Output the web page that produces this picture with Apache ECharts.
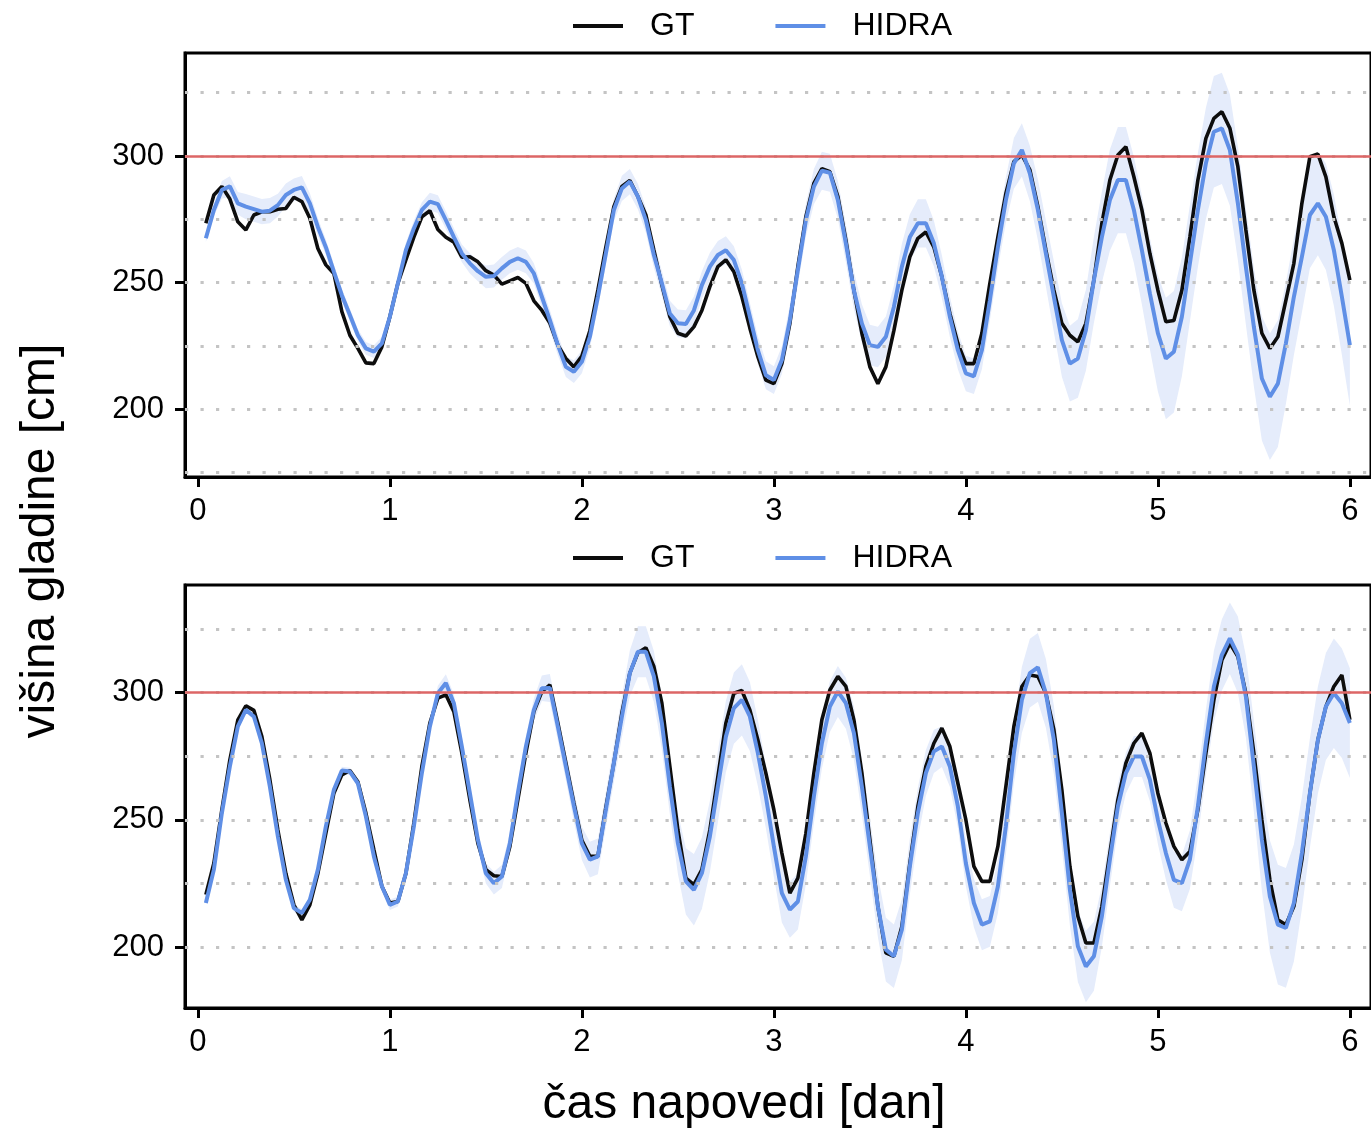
<!DOCTYPE html>
<html>
<head>
<meta charset="utf-8">
<script src="https://cdn.jsdelivr.net/npm/echarts@6/dist/echarts.min.js"></script>
<style>
html,body{margin:0;padding:0;background:#fff;}
#chart{width:1371px;height:1128px;}
</style>
</head>
<body>
<div id="chart"></div>
<script>
// Forecast lead time: hourly steps, 1..144 h (x in days)
const STEP_HOURS = 1;

// ---------- top panel ----------
const topGT = [273.4,284.6,288,283,274,270.8,276.7,278,278,279,279.3,283.7,282,275.4,263.5,257,253.6,238.5,229.2,224,218.3,218,224.6,236.5,
249.7,259,268,276,278.4,271,267.9,266,260,260.2,258.2,254.7,253,249.4,250.7,252,249.7,242.8,239,234,225.3,220,216.7,221,
231,247,264,280,288,290.3,284,276.7,262.8,249,236.5,230,228.9,232.5,239,248.4,256.3,259,254.3,244.4,232,220.7,211.5,210.1,
218,233.9,256.3,276,289.2,295,293.8,284,266.8,247,230,216.7,210,216.7,231,247,260.2,267.5,270,264,252.3,237.8,226,218,
218,230,249.7,268,285.2,297.8,300.4,294.5,280,262.8,247,233.9,229.2,226.6,233.9,251,273.4,290.5,300.4,303.7,291.8,278.7,261.5,247,
234.5,235,247,268,290.5,307,314.9,317.5,311,295.8,270.8,247,230,224,228.6,243,257.6,281.3,299.7,300.8,291.8,276,265.5,251];

const topHIDRA = [267.5,278.7,286.6,288,281.3,280,279,278,278.4,280.6,284.6,286.6,287.6,281.3,272,264,254.3,245,237.2,229.2,224,222.7,226,236.5,
249.7,262.8,271.4,278.7,282,281,274.7,268,261.5,257.6,254.5,252.3,252.6,255.6,258.2,259.6,258.2,253.6,244.4,235.2,225.3,216.7,214.8,218.7,
228.6,244.4,261.5,278.7,287.2,289.9,284,274.7,260.9,249.7,237.8,233.9,233.6,239,249,256.3,260.9,262.8,258.9,249.7,236.5,223.3,213.4,211.5,
219.4,235.2,255,274.7,287.9,294.2,293.4,282.6,265.5,247,233.9,225.3,224.6,228.6,240.4,256.3,268,273.4,273.4,265.5,252.3,236.5,223.3,214.1,
213,223.3,243,264,282.6,297.1,302.4,293.1,278.7,261.5,244.4,227.3,218,220,231.2,251,268,282.6,290.5,290.5,278.7,262.8,245.7,230,
220,222.7,236.5,257.6,278.7,297.1,309.6,310.9,302.4,281.3,256.3,232.5,212.1,204.9,210.1,226,244.4,260.2,276.7,281.3,276,262.8,244.4,225.3];

const topBandHalf = [1.5,2.5,3.5,4,4.5,5,5,5,5,4.5,4.5,4.5,4.5,4,3.5,3,3,2.5,2.5,2.5,2.5,2.5,2.5,2.5,
2.5,3,3,3,3.5,3.5,3.5,3.5,3.5,4,4,4.5,4.5,4.5,4.5,4.5,4.5,4,4,4,4,4,4.5,4.5,
4.5,4.5,4.5,4.5,5,5,5,5,5,5,5,5.5,5.5,5.5,5.5,5.5,5.5,5.5,5.5,5.5,5.5,5.5,5.5,5.5,
5.5,6,6,6.5,7,7.5,7.5,7.5,7.5,7.5,7.5,8,8,8,8.5,9,9,9.5,9.5,9,8.5,8,7.5,7,
7,7.5,8,8.5,9,10,10.5,11,12,13,14,14.5,15,15.5,16,17,18,20,21,21,21,21.5,22,23,
24,24,23.5,23,22.5,22,22,22,22,22.5,23,23.5,24.5,25,25,24,23,22,21,20.5,21,22,23,24];

// ---------- bottom panel ----------
const botGT = [220.7,233,254,273.6,289.3,294.8,293,282.7,265.8,246,229,216.7,210.8,216.7,229,244.8,260.5,267.7,269.4,265,252.7,238.3,224,217.4,
218,229,248.8,271,288,297.8,299.1,292.5,276.2,257.9,240.9,230.5,228.1,227.8,239.6,257.9,276.2,292.5,300.4,303,288,272.4,256.7,242,
235.7,235.7,255,272.4,292,307.7,315.6,317.6,310.2,295.8,271,246.1,227.2,224.6,230.5,246.1,267,288,299.7,300.8,293.2,281.4,268.4,254,
237,221.3,227.2,244.8,268.4,289.3,301,306.3,302.4,289.3,268.4,242.2,216.1,197.8,196.5,208.2,233.1,255.3,271,280.1,286,278.8,264.4,250,
231.8,225.9,225.9,239.6,263.1,286.7,302.4,306.9,306.3,299.7,285.4,261.8,231.8,212.2,201.7,201.7,216.1,237,257.9,272.3,280.1,284.1,276.2,260.5,
248.8,239.6,234.4,237.6,254,276.2,297.1,312.8,319.3,314.1,299.7,276.2,250,226.5,210.8,208.9,216.1,234.4,260.5,281.4,294.5,302.4,306.9,289.3];

const botHIDRA = [217.4,230.5,252.7,271,286.7,293.2,290.6,280.1,263.1,243.5,226.5,215.4,213.5,218.7,230.5,247.5,261.8,269.4,269,264.4,251.4,235.7,224,216.7,
218,229.1,247.5,268.4,286.7,299.7,303.7,295.8,278.8,260.5,242.2,229.1,225.2,227.8,240.9,260.5,278.8,293.2,301.7,301.8,286.6,271,255.5,240.8,
234.4,235.7,254,272.4,290.5,307.6,316,316,306.3,288,263.1,240.9,225.9,222.6,229.1,243.5,263.1,282.7,293.9,297.1,290.6,276.2,259.2,239.6,
221.3,214.8,218,235.7,259.2,280.1,294.5,300.4,295.8,284.1,263.1,239.6,216.1,199.1,196.5,206.9,231.8,252.7,268.4,276.9,278.8,271,255.3,233,
217.4,208.9,210.2,223.9,247.5,276.2,297.1,307.6,309.9,299.7,281.4,252.7,222.6,200.4,192.5,196.5,212.2,234.4,255.3,268.4,274.9,274.9,265.8,250.1,
237,226.5,225.2,234.4,255.3,280.1,302.4,314.8,321.3,314.8,298.4,271,242.2,220,208.9,207.6,217.4,237,260.5,281.4,294.5,299.7,295.8,288];

const botBandHalf = [0.5,0.8,1,1,1,1.2,1.2,1.2,1.2,1.2,1.5,1.5,1.5,1.5,1.5,1.5,1.5,1.5,1.5,1.5,1.5,1.5,1.5,2,
2,2,2,2,2.5,3,3.5,3.5,3.5,3.5,3.5,4,4.5,4.5,4,4,4,4.5,5,5.5,5.5,5.5,6,6.5,
7,7,7,7.5,8,9,10,10,10,10.5,11,12,13,14,14,14,14,14,14,14,13.5,13,12.5,12,
11.5,11,11,11,10.5,10,10,10,10,10.5,11,11.5,12,12.5,12.5,12,11,10,9,8.5,8,8,8.5,9,
9.5,10,10,10.5,11,12,13,13.5,13.5,13.5,13.5,13.5,14,14,14,13.5,12,10.5,9,8,8,8,8.5,9.5,
10.5,11,11,11.5,12,13,14,14,14,15,16,18,20,22,23.5,23.5,23,22,21.5,21,21,21.5,21.5,21.5];

// ---------- axes / reference values ----------
const xTickLabels = [0,1,2,3,4,5,6];
const yTickLabels = [200,250,300];
const topGridLines = [175,200,225,250,275,300,325];
const botGridLines = [200,225,250,275,300,325];
const threshold = 300;
const legendNames = ['GT','HIDRA'];

const FONT = '"Liberation Sans", Arial, Helvetica, sans-serif';
const C_GT = '#0d0d0d', C_H = '#5f8fe6', C_BAND = '#e5ecfb', C_RED = '#dd6666', C_DOT = '#c4c4c4';

function xOf(i){ return (i+1)*STEP_HOURS/24; }
function xy(arr){ return arr.map((v,i)=>[xOf(i), v]); }

const chart = echarts.init(document.getElementById('chart'), null, {renderer:'canvas'});

function xAxisDef(gi){
  return {
    gridIndex: gi, type:'value', min:-0.067, max:6.11,
    axisLine:{show:true, onZero:false, lineStyle:{color:'#000', width:3}},
    axisTick:{show:true, length:10, lineStyle:{color:'#000', width:3}, customValues:xTickLabels},
    axisLabel:{show:true, fontSize:31, fontFamily:FONT, color:'#000', margin:19, customValues:xTickLabels},
    splitLine:{show:false}
  };
}
function yAxisDef(gi, mn, mx){
  return {
    gridIndex: gi, type:'value', min:mn, max:mx,
    axisLine:{show:true, onZero:false, lineStyle:{color:'#000', width:3}},
    axisTick:{show:true, length:10, lineStyle:{color:'#000', width:3}, customValues:yTickLabels},
    axisLabel:{show:true, fontSize:31, fontFamily:FONT, color:'#000', margin:21, customValues:yTickLabels},
    splitLine:{show:false}
  };
}
function bandSeries(gi, hidra, half, gridLines){
  const data = hidra.map((v,i)=>[xOf(i), v-half[i], v+half[i]]);
  const ml = gridLines.map(v=>({yAxis:v, lineStyle:{color:C_DOT, width:3.2, type:[3.2,12.3], cap:'butt'}}));
  ml.push({yAxis:threshold, lineStyle:{color:C_RED, width:2.5, type:'solid'}});
  return {
    name:'band', type:'custom', xAxisIndex:gi, yAxisIndex:gi, data:data, silent:true, z:1,
    encode:{x:0, y:[1,2]},
    renderItem:function(params, api){
      if (params.dataIndex !== 0) return null;
      const upper = [], lower = [];
      for (let i=0;i<data.length;i++){
        upper.push(api.coord([data[i][0], data[i][2]]));
        lower.push(api.coord([data[i][0], data[i][1]]));
      }
      const pts = upper.concat(lower.reverse());
      return {type:'polygon', shape:{points:pts}, style:{fill:C_BAND, stroke:null}};
    },
    markLine:{silent:true, symbol:'none', label:{show:false}, animation:false, data:ml}
  };
}
function panelSeries(gi, gt, hidra, half, gridLines){
  return [
    bandSeries(gi, hidra, half, gridLines),
    {name:'GT', type:'line', xAxisIndex:gi, yAxisIndex:gi, data:xy(gt), symbol:'none',
     color:C_GT, lineStyle:{color:C_GT, width:3.6}, z:3},
    {name:'HIDRA', type:'line', xAxisIndex:gi, yAxisIndex:gi, data:xy(hidra), symbol:'none',
     color:C_H, lineStyle:{color:C_H, width:4}, z:4}
  ];
}
function legendDef(top){
  return {
    data:legendNames, left:568, top:top, icon:'rect', itemWidth:50, itemHeight:4, itemGap:81,
    textStyle:{fontSize:32, fontFamily:FONT, color:'#000', padding:[0,0,0,22]},
    selectedMode:false
  };
}

chart.setOption({
  animation:false,
  backgroundColor:'#fff',
  textStyle:{fontFamily:FONT},
  legend:[legendDef(5), legendDef(537)],
  grid:[
    {left:185, top:53, width:1191, height:424, show:true, borderColor:'#000', borderWidth:3, backgroundColor:'transparent'},
    {left:185, top:585, width:1191, height:423, show:true, borderColor:'#000', borderWidth:3, backgroundColor:'transparent'}
  ],
  xAxis:[xAxisDef(0), xAxisDef(1)],
  yAxis:[yAxisDef(0,173.2,340.7), yAxisDef(1,176.2,342.2)],
  series:[].concat(
    panelSeries(0, topGT, topHIDRA, topBandHalf, topGridLines),
    panelSeries(1, botGT, botHIDRA, botBandHalf, botGridLines)
  ),
  graphic:[
    {type:'text', x:41, y:541, rotation:Math.PI/2,
     style:{text:'višina gladine [cm]', fontSize:48, fontFamily:FONT, fill:'#000', textAlign:'center', textVerticalAlign:'middle'}},
    {type:'text', x:744, y:1105,
     style:{text:'čas napovedi [dan]', fontSize:48, fontFamily:FONT, fill:'#000', textAlign:'center', textVerticalAlign:'middle'}}
  ]
});
</script>
</body>
</html>
